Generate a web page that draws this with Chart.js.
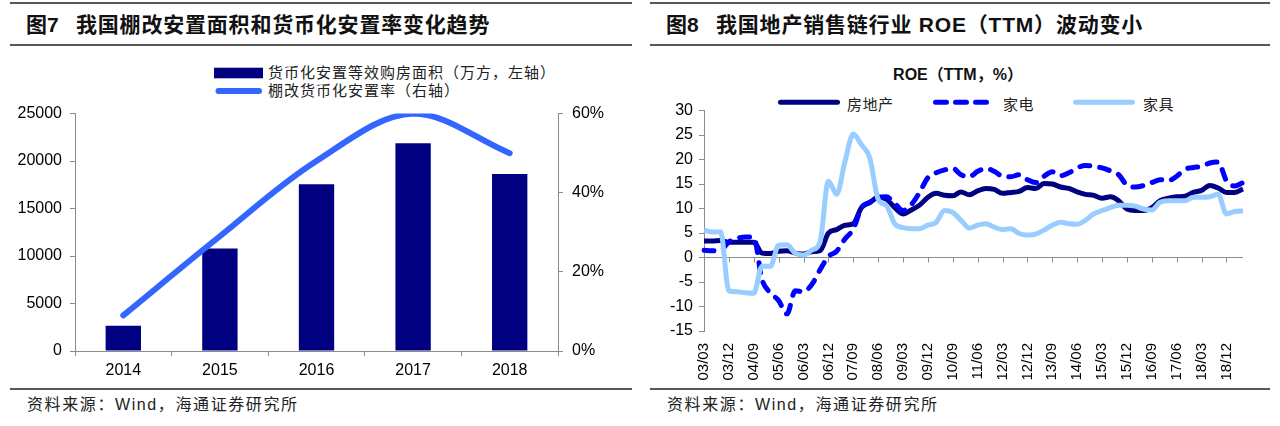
<!DOCTYPE html>
<html>
<head>
<meta charset="utf-8">
<script src="https://cdn.jsdelivr.net/npm/chart.js@4.4.1/dist/chart.umd.min.js"></script>
<style>
  html, body { margin: 0; padding: 0; background: #fff; }
  body { width: 1280px; height: 426px; position: relative; overflow: hidden;
         font-family: "Liberation Sans", "Noto Sans CJK SC", sans-serif; color: #000; }
  .rule { position: absolute; height: 2px; background: #555; }
  .ttl { position: absolute; top: 13px; font-size: 21px; line-height: 24px; font-weight: bold; white-space: nowrap; color: #111; }
  .ttl .main { letter-spacing: 0.8px; }
  .src { position: absolute; top: 395px; font-size: 16px; line-height: 20px; letter-spacing: 1.6px; white-space: nowrap; color: #222; }
  .leg { position: absolute; font-family: "Noto Sans CJK SC", sans-serif; font-size: 15px; line-height: 18px; white-space: nowrap; color: #222; }
  .sw { position: absolute; overflow: visible; }
  canvas { position: absolute; }
</style>
</head>
<body>

<!-- left panel frame -->
<div class="rule" style="left:10px;width:622px;top:2px"></div>
<div class="rule" style="left:10px;width:622px;top:44px"></div>
<div class="rule" style="left:10px;width:622px;top:388px"></div>
<div class="ttl" style="left:26px">图7</div>
<div class="ttl" style="left:76px"><span class="main">我国棚改安置面积和货币化安置率变化趋势</span></div>
<div class="src" style="left:27px">资料来源：Wind，海通证券研究所</div>

<!-- right panel frame -->
<div class="rule" style="left:650px;width:620px;top:2px"></div>
<div class="rule" style="left:650px;width:620px;top:44px"></div>
<div class="rule" style="left:650px;width:620px;top:388px"></div>
<div class="ttl" style="left:666px">图8</div>
<div class="ttl" style="left:716px"><span class="main">我国地产销售链行业 ROE（TTM）波动变小</span></div>
<div class="src" style="left:667px">资料来源：Wind，海通证券研究所</div>

<!-- left legend -->
<svg class="sw" id="swBar" style="left:214px;top:67px" width="50" height="12"></svg>
<div class="leg" style="left:268px;top:63px;letter-spacing:1px">货币化安置等效购房面积（万方，左轴）</div>
<svg class="sw" id="swRate" style="left:212px;top:86px" width="54" height="10"></svg>
<div class="leg" style="left:268px;top:81px;letter-spacing:1px">棚改货币化安置率（右轴）</div>

<!-- right title + legend -->
<div style="position:absolute;left:838px;width:240px;top:66px;text-align:center;font-size:16px;line-height:18px;font-weight:bold;color:#111">ROE（TTM，%）</div>
<svg class="sw" id="swRe" style="left:775px;top:97px" width="70" height="11"></svg>
<div class="leg" style="left:847px;top:95px;letter-spacing:0.5px">房地产</div>
<svg class="sw" id="swAp" style="left:930px;top:97px" width="70" height="11"></svg>
<div class="leg" style="left:1003px;top:95px;letter-spacing:0.5px">家电</div>
<svg class="sw" id="swFu" style="left:1070px;top:97px" width="70" height="11"></svg>
<div class="leg" style="left:1143px;top:95px;letter-spacing:0.5px">家具</div>

<canvas id="shed" width="640" height="290" style="left:0;top:95px"></canvas>
<canvas id="roe" width="640" height="295" style="left:640px;top:95px"></canvas>

<script>
// ---- figure 7 data ----
const years = ['2014', '2015', '2016', '2017', '2018'];
const cashArea = [2650, 10800, 17550, 21880, 18650];   // 万方, left axis
const cashRate = [9, 29, 48, 60, 50];                   // %, right axis

// ---- figure 8 data (quarterly, ROE TTM %) ----
const quarters = [
  '03/03','03/06','03/09','03/12','04/03','04/06','04/09','04/12',
  '05/03','05/06','05/09','05/12','06/03','06/06','06/09','06/12',
  '07/03','07/06','07/09','07/12','08/03','08/06','08/09','08/12',
  '09/03','09/06','09/09','09/12','10/03','10/06','10/09','10/12',
  '11/03','11/06','11/09','11/12','12/03','12/06','12/09','12/12',
  '13/03','13/06','13/09','13/12','14/03','14/06','14/09','14/12',
  '15/03','15/06','15/09','15/12','16/03','16/06','16/09','16/12',
  '17/03','17/06','17/09','17/12','18/03','18/06','18/09','18/12',
  '19/03','19/06'
];
const roeRealEstate = [
  3.4, 3.4, 3.5, 3.1, 3.1, 3.1, 3.1, 0.9, 0.8, 1.3, 1.4, 0.9, 0.7, 1.2, 1.4, 5.0,
  5.7, 6.6, 6.9, 10.2, 11.2, 12.3, 11.9, 10.2, 8.9, 9.7, 10.7, 12.3, 13.1, 12.7, 12.6, 13.4,
  12.8, 13.6, 14.1, 13.9, 13.1, 13.3, 13.5, 14.3, 14.1, 15.1, 15.0, 14.4, 14.1, 13.4, 12.9, 12.7,
  12.1, 12.4, 11.6, 9.9, 9.6, 9.6, 10.2, 11.6, 12.1, 12.4, 12.5, 13.3, 13.7, 14.7, 14.2, 13.3,
  13.3, 14.0
];
const roeAppliance = [
  1.5, 1.4, 1.5, 3.2, 3.9, 4.2, 4.1, -4.5, -7.2, -8.8, -11.5, -6.8, -7.0, -5.5, -2.5, 0.2,
  1.3, 3.8, 5.8, 10.2, 11.3, 12.3, 12.4, 11.1, 9.6, 10.8, 13.3, 16.3, 17.3, 17.9, 18.2, 16.9,
  16.5, 17.6, 18.2, 17.6, 16.6, 16.5, 16.9, 15.9, 15.3, 16.6, 17.5, 16.7, 17.3, 18.3, 18.8, 18.6,
  18.3, 17.7, 16.9, 14.8, 14.4, 14.7, 15.3, 15.9, 15.7, 16.6, 18.0, 18.4, 18.6, 19.3, 19.5, 15.7,
  14.6, 15.3
];
const roeFurniture = [
  5.6, 5.2, 5.2, -6.8, -7.0, -7.2, -7.3, -1.8, -1.8, 2.5, 2.6, 0.9, 0.5, 1.5, 3.2, 15.6,
  12.9, 19.6, 25.2, 23.0, 20.3, 11.9, 10.6, 6.9, 6.1, 5.9, 5.9, 6.6, 7.2, 9.6, 9.2, 7.6,
  6.0, 6.6, 6.9, 6.2, 5.7, 5.9, 4.9, 4.6, 4.8, 5.6, 6.6, 7.2, 6.9, 6.8, 7.6, 8.9,
  9.6, 10.2, 10.7, 10.7, 10.5, 9.9, 9.7, 11.3, 11.6, 11.6, 11.6, 12.3, 12.3, 12.4, 12.9, 8.9,
  9.4, 9.5
];

const NAVY = '#000080';
const RATE_BLUE = '#3366ff';
const BLUE = '#0000ff';
const LIGHT = '#99ccff';
const AXIS = '#8c8c8c';

Chart.defaults.font.family = '"Liberation Sans", Arial, sans-serif';
Chart.defaults.color = '#000';

// legend swatches
const svgNS = 'http://www.w3.org/2000/svg';
function swLine(id, color, width, x1, x2, y, dash) {
  const l = document.createElementNS(svgNS, 'line');
  l.setAttribute('x1', x1); l.setAttribute('x2', x2);
  l.setAttribute('y1', y); l.setAttribute('y2', y);
  l.setAttribute('stroke', color);
  l.setAttribute('stroke-width', width);
  l.setAttribute('stroke-linecap', 'round');
  if (dash) l.setAttribute('stroke-dasharray', dash);
  document.getElementById(id).appendChild(l);
}
const r = document.createElementNS(svgNS, 'rect');
r.setAttribute('x', 0); r.setAttribute('y', 0.7);
r.setAttribute('width', 49); r.setAttribute('height', 10.6);
r.setAttribute('fill', NAVY);
document.getElementById('swBar').appendChild(r);
swLine('swRate', RATE_BLUE, 6, 6.5, 47, 5);
swLine('swRe', NAVY, 5, 5.5, 62.5, 5.3);
swLine('swAp', BLUE, 5, 5.5, 64.5, 5.3, '11 9');
swLine('swFu', LIGHT, 5, 5.5, 62.5, 5.3);

// figure 7
new Chart(document.getElementById('shed'), {
  data: {
    labels: years,
    datasets: [
      { type: 'line', label: '棚改货币化安置率（右轴）', data: cashRate, yAxisID: 'y1',
        borderColor: RATE_BLUE, borderWidth: 6, tension: 0.35, pointRadius: 0,
        borderCapStyle: 'round', order: 0 },
      { type: 'bar', label: '货币化安置等效购房面积（万方，左轴）', data: cashArea, yAxisID: 'y',
        backgroundColor: NAVY, barPercentage: 0.366, categoryPercentage: 1, order: 1 }
    ]
  },
  options: {
    responsive: false,
    animation: false,
    events: [],
    layout: { padding: { top: 10, left: 0, right: 0, bottom: 0 } },
    plugins: { legend: { display: false }, tooltip: { enabled: false } },
    scales: {
      x: {
        grid: { offset: true, drawOnChartArea: false, tickLength: 5, color: AXIS, tickColor: AXIS },
        border: { color: AXIS },
        ticks: { font: { size: 16 }, padding: 5 },
        afterFit: s => { s.height = 34; }
      },
      y: {
        position: 'left', min: 0, max: 25000,
        grid: { drawOnChartArea: false, tickLength: 5, color: AXIS, tickColor: AXIS },
        border: { color: AXIS },
        ticks: { stepSize: 5000, font: { size: 16 }, padding: 8, callback: v => String(v) },
        afterFit: s => { s.width = 75; }
      },
      y1: {
        position: 'right', min: 0, max: 60,
        grid: { drawOnChartArea: false, tickLength: 5, color: AXIS, tickColor: AXIS },
        border: { color: AXIS },
        ticks: { stepSize: 20, font: { size: 16 }, padding: 9, callback: v => v + '%' },
        afterFit: s => { s.width = 82; }
      }
    }
  }
});

// small tick marks on the zero line of figure 8
const zeroTicks = {
  id: 'zeroTicks',
  beforeDatasetsDraw(chart) {
    const { ctx, scales: { x, y } } = chart;
    const y0 = y.getPixelForValue(0);
    ctx.save();
    ctx.strokeStyle = AXIS;
    ctx.lineWidth = 1;
    ctx.beginPath();
    quarters.forEach((q, i) => {
      if (i === 0 || i % 3 !== 0) return;
      const px = Math.round(x.getPixelForValue(i)) + 0.5;
      ctx.moveTo(px, y0);
      ctx.lineTo(px, y0 + 5);
    });
    ctx.stroke();
    ctx.restore();
  }
};

// figure 8
new Chart(document.getElementById('roe'), {
  type: 'line',
  data: {
    labels: quarters,
    datasets: [
      { label: '房地产', data: roeRealEstate, borderColor: NAVY, borderWidth: 5, order: 2 },
      { label: '家电', data: roeAppliance, borderColor: BLUE, borderWidth: 5,
        borderDash: [10, 10], borderCapStyle: 'round', order: 1 },
      { label: '家具', data: roeFurniture, borderColor: LIGHT, borderWidth: 5, order: 0 }
    ]
  },
  options: {
    responsive: false,
    animation: false,
    events: [],
    elements: {
      point: { radius: 0 },
      line: { cubicInterpolationMode: 'monotone', borderJoinStyle: 'round' }
    },
    layout: { padding: { top: 12, right: 37, bottom: 0, left: 0 } },
    plugins: { legend: { display: false }, tooltip: { enabled: false } },
    scales: {
      x: {
        grid: { display: false, drawTicks: false },
        border: { display: false },
        ticks: {
          autoSkip: false, maxRotation: 90, minRotation: 90, padding: 12,
          font: { size: 15 },
          callback: (v, i) => (i % 3 === 0 ? quarters[i] : '')
        },
        afterFit: s => { s.height = 59; }
      },
      y: {
        min: -15, max: 30,
        grid: {
          color: c => (c.tick && c.tick.value === 0 ? AXIS : 'rgba(0,0,0,0)'),
          tickColor: AXIS, tickLength: 5
        },
        border: { color: AXIS },
        ticks: { stepSize: 5, font: { size: 16 }, padding: 6 },
        afterFit: s => { s.width = 64; }
      }
    }
  },
  plugins: [zeroTicks]
});
</script>
</body>
</html>
